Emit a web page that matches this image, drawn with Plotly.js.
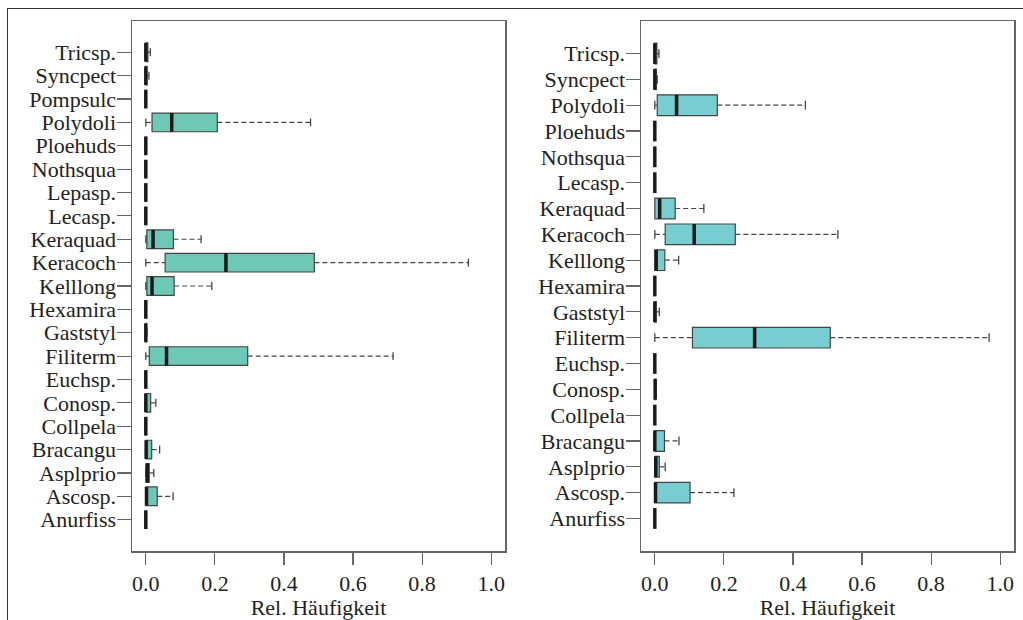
<!DOCTYPE html>
<html><head><meta charset="utf-8">
<script src="https://cdn.plot.ly/plotly-3.0.1.min.js"></script>
<style>
html,body{margin:0;padding:0;background:#fff;}
#plot{width:1023px;height:620px;}
#frame{position:absolute;left:7px;top:8px;width:1020px;height:620px;border-left:1.5px solid #333;border-top:1.5px solid #333;pointer-events:none;}
</style></head>
<body>
<div id="plot"></div>
<div id="frame"></div>
<script>
// ----- Left panel (top to bottom) -----
const catsL = ['Tricsp.','Syncpect','Pompsulc','Polydoli','Ploehuds','Nothsqua','Lepasp.','Lecasp.','Keraquad','Keracoch','Kelllong','Hexamira','Gaststyl','Filiterm','Euchsp.','Conosp.','Collpela','Bracangu','Asplprio','Ascosp.','Anurfiss'];
const loL  = [0,0,0,0,    0,0,0,0,0,    0,    0,    0,0,    0,    0,0,    0,0,    0,    0,    0];
const q1L  = [0,0,0,0.018,0,0,0,0,0.003,0.056,0.003,0,0,    0.010,0,0,    0,0,    0.001,0,    0];
const medL = [0,0,0,0.075,0,0,0,0,0.021,0.232,0.018,0,0,    0.060,0,0,    0,0.001,0.004,0.002,0];
const q3L  = [0.006,0.003,0,0.207,0,0,0,0,0.080,0.488,0.082,0,0.002,0.295,0,0.014,0,0.017,0.010,0.033,0];
const hiL  = [0.013,0.009,0,0.477,0,0,0,0,0.160,0.934,0.191,0,0.003,0.716,0,0.029,0,0.040,0.023,0.079,0];

// ----- Right panel (top to bottom) -----
const catsR = ['Tricsp.','Syncpect','Polydoli','Ploehuds','Nothsqua','Lecasp.','Keraquad','Keracoch','Kelllong','Hexamira','Gaststyl','Filiterm','Euchsp.','Conosp.','Collpela','Bracangu','Asplprio','Ascosp.','Anurfiss'];
const loR  = [0,0,0,    0,0,0,0,    0,    0,    0,0,    0,    0,0,    0,0,    0,    0,    0];
const q1R  = [0,0,0.007,0,0,0,0,    0.030,0,    0,0,    0.109,0,0,    0,0,    0,    0,    0];
const medR = [0,0,0.063,0,0,0,0.014,0.114,0.004,0,0,    0.289,0,0.001,0,0,    0.003,0.002,0];
const q3R  = [0.006,0.004,0.181,0,0,0,0.059,0.233,0.029,0,0.004,0.508,0,0.003,0,0.028,0.013,0.102,0];
const hiR  = [0.012,0.007,0.436,0,0,0,0.142,0.530,0.069,0,0.013,0.968,0,0.003,0,0.070,0.030,0.229,0];

const xTicks = [0,0.2,0.4,0.6,0.8,1.0];
const xTickText = ['0.0','0.2','0.4','0.6','0.8','1.0'];

const FONT = 'Liberation Serif, Times New Roman, serif';
const BOXW = 0.8, CAPH = 0.17;

function panel(cats, lo, q1, med, q3, hi, fill, xa, ya){
  const n = cats.length;
  const ys = cats.map((c,i)=> n - i);
  const traces = [];
  traces.push({type:'bar', orientation:'h', xaxis:xa, yaxis:ya,
    y: ys, base: q1, x: q3.map((v,i)=> v - q1[i]), width: BOXW,
    marker:{color:fill, line:{color:'#444', width:1.2}}, hoverinfo:'skip', showlegend:false});
  const wx=[], wy=[], cx=[], cy=[];
  for(let i=0;i<n;i++){
    const y=ys[i];
    if(hi[i] > q3[i]){ wx.push(q3[i],hi[i],null); wy.push(y,y,null); cx.push(hi[i],hi[i],null); cy.push(y-CAPH,y+CAPH,null); }
    if(lo[i] < q1[i]){ wx.push(lo[i],q1[i],null); wy.push(y,y,null); cx.push(lo[i],lo[i],null); cy.push(y-CAPH,y+CAPH,null); }
  }
  traces.push({type:'scatter', mode:'lines', xaxis:xa, yaxis:ya, x:wx, y:wy,
    line:{color:'#444', width:1.2, dash:'5px,3px'}, hoverinfo:'skip', showlegend:false});
  traces.push({type:'scatter', mode:'lines', xaxis:xa, yaxis:ya, x:cx, y:cy,
    line:{color:'#444', width:1.3}, hoverinfo:'skip', showlegend:false});
  const mx=[], my=[];
  for(let i=0;i<n;i++){ mx.push(med[i],med[i],null); my.push(ys[i]-BOXW/2, ys[i]+BOXW/2, null); }
  traces.push({type:'scatter', mode:'lines', xaxis:xa, yaxis:ya, x:mx, y:my,
    line:{color:'#1a1a1a', width:3.5}, hoverinfo:'skip', showlegend:false});
  return {traces, ys};
}

const L = panel(catsL, loL, q1L, medL, q3L, hiL, '#6dc8b5', 'x', 'y');
const R = panel(catsR, loR, q1R, medR, q3R, hiR, '#77cdd0', 'x2', 'y2');

function xaxis(domain, anchor){
  return {domain, anchor, range:[-0.04,1.04], tickvals:xTicks, ticktext:xTickText,
    ticks:'outside', ticklen:12, tickwidth:1.2, tickcolor:'#666',
    showline:true, mirror:true, linecolor:'#666', linewidth:1.5,
    showgrid:false, zeroline:false,
    tickfont:{family:FONT, size:22, color:'#222'},
    title:{text:'Rel. Häufigkeit', font:{family:FONT, size:22, color:'#222'}, standoff:0}};
}
function yaxis(cats, ys, anchor){
  const n = cats.length, ext = 0.04*n;
  return {domain:[0,1], anchor, range:[0.5-ext, n+0.5+ext], tickvals:ys, ticktext:cats,
    ticks:'outside', ticklen:14, tickwidth:1.2, tickcolor:'#666',
    showline:true, mirror:true, linecolor:'#666', linewidth:1.5,
    showgrid:false, zeroline:false, ticklabelstandoff:-4,
    tickfont:{family:FONT, size:22, color:'#222'}};
}

const layout = {
  width:1023, height:620,
  margin:{l:0, r:0, t:21, b:69},
  paper_bgcolor:'rgba(0,0,0,0)', plot_bgcolor:'#fff',
  showlegend:false, barmode:'overlay',
  xaxis: xaxis([132/1023, 505/1023], 'y'),
  yaxis: yaxis(catsL, L.ys, 'x'),
  xaxis2: xaxis([641/1023, 1014/1023], 'y2'),
  yaxis2: yaxis(catsR, R.ys, 'x2')
};

Plotly.newPlot('plot', L.traces.concat(R.traces), layout, {displayModeBar:false, staticPlot:true});
</script>
</body></html>
